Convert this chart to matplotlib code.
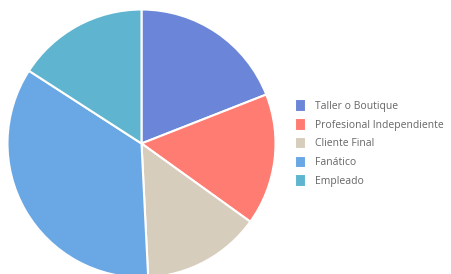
import matplotlib.pyplot as plt

plt.rcParams['font.family'] = ['Open Sans', 'DejaVu Sans']

categories = ['Taller o Boutique', 'Profesional Independiente', 'Cliente Final',
              'Fanático', 'Empleado']
values = [12, 10, 9, 22, 10]
colors = ['#6b86d8', '#ff7c72', '#d7cdbc', '#6aa7e5', '#5fb5cf']

W, H = 452, 274
cx, cy, r = 141.5, 143.5, 134.0

fig = plt.figure(figsize=(W / 100, H / 100), dpi=100)
ax = fig.add_axes([(cx - r) / W, (H - cy - r) / H, 2 * r / W, 2 * r / H])

wedges, _ = ax.pie(values, colors=colors, startangle=90, counterclock=False,
                   radius=1.0, wedgeprops=dict(edgecolor='white', linewidth=1.5))
ax.set_xlim(-1, 1)
ax.set_ylim(-1, 1)
ax.set_aspect('equal')
ax.axis('off')

fig.legend(wedges, categories, loc='upper left',
           bbox_to_anchor=(295 / W, 1 - 99 / H), frameon=False,
           fontsize=7.5, labelcolor='#666666', handlelength=1.05,
           handleheight=1.5, handletextpad=0.9, labelspacing=0.58,
           borderaxespad=0, borderpad=0)

fig.savefig('out.png', dpi=100)
